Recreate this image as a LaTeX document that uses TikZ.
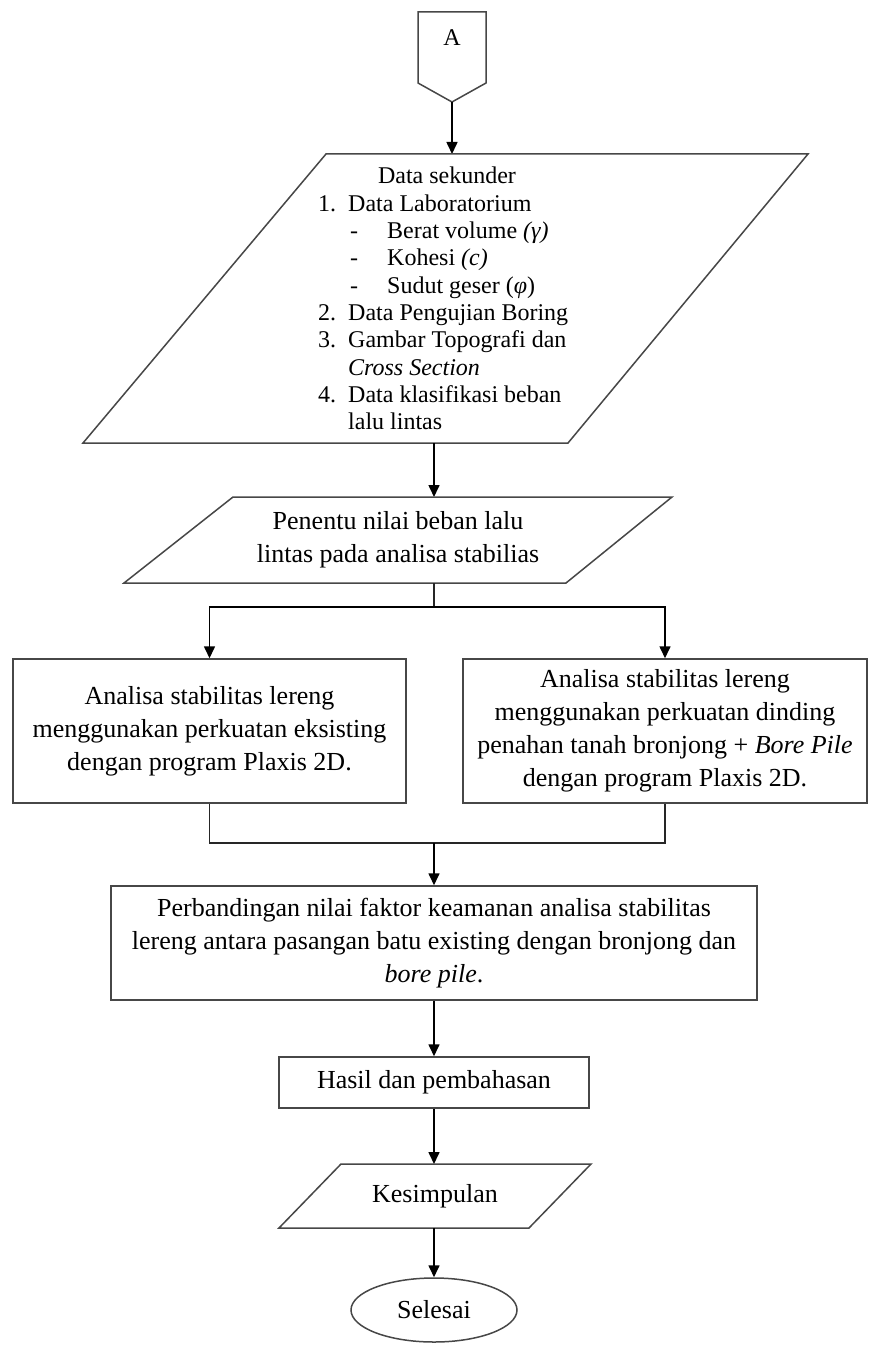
\documentclass[tikz,border=0pt]{standalone}
\usepackage{fontspec}
\setmainfont{Liberation Serif}
\usetikzlibrary{arrows.meta,shapes.geometric}
\newcommand\bxf{\fontsize{26}{33}\selectfont}
\newcommand\pxf{\fontsize{24}{27.3}\selectfont}
\begin{document}
\begin{tikzpicture}[x=1pt,y=-1pt,
  shp/.style={draw=black!72,line width=1.5pt,line join=miter},
  arr/.style={draw=black,line width=1.6pt,-{Triangle[width=11pt,length=12pt]}},
  ln/.style={draw=black!85,line width=1.5pt},
  box/.style={shp,rectangle,inner sep=0pt,align=center,font=\bxf},
  lbl/.style={inner sep=0pt,font=\pxf,anchor=base west}]
\useasboundingbox (0,0) rectangle (869,1348);
\fill[white] (0,0) rectangle (869,1348);

% off-page connector A
\draw[shp] (418,12) -- (486,12) -- (486,83) -- (452,102) -- (418,83) -- cycle;
\node[inner sep=0pt,font=\fontsize{24}{27}\selectfont] (A) at (452,38) {A};
\coordinate (offb) at (452,102);
\coordinate (p1t) at (452,154);
\draw[arr] (offb) -- (p1t);

% input data parallelogram
\draw[shp] (326,154) -- (808,154) -- (568,443) -- (83,443) -- cycle;
\node[inner sep=0pt,font=\pxf,anchor=base] (t0) at (447,184) {Data sekunder};
\node[lbl] (n1) at (318,211.3) {1.};
\node[lbl] (l1) at (348,211.3) {Data Laboratorium};
\node[lbl] (d1) at (350,238.6) {-};
\node[lbl] (s1) at (387,238.6) {Berat volume \textit{(γ)}};
\node[lbl] (d2) at (350,265.9) {-};
\node[lbl] (s2) at (387,265.9) {Kohesi \textit{(c)}};
\node[lbl] (d3) at (350,293.2) {-};
\node[lbl] (s3) at (387,293.2) {Sudut geser (\textit{φ})};
\node[lbl] (n2) at (318,320.5) {2.};
\node[lbl] (l2) at (348,320.5) {Data Pengujian Boring};
\node[lbl] (n3) at (318,347.8) {3.};
\node[lbl] (l3) at (348,347.8) {Gambar Topografi dan};
\node[lbl] (l3b) at (348,375.1) {\textit{Cross Section}};
\node[lbl] (n4) at (318,402.4) {4.};
\node[lbl] (l4) at (348,402.4) {Data klasifikasi beban};
\node[lbl] (l4b) at (348,429.7) {lalu lintas};
\coordinate (p1b) at (434,443);
\coordinate (p2t) at (434,497);
\draw[arr] (p1b) -- (p2t);

% traffic load parallelogram
\draw[shp] (233,497) -- (672,497) -- (566,583) -- (124,583) -- cycle;
\node[inner sep=0pt,align=center,font=\bxf] (p2) at (398,540) {Penentu nilai beban lalu\\lintas pada analisa stabilias};
\coordinate (p2b) at (434,583);
\coordinate (split) at (434,607);

% analysis boxes
\node[box,minimum width=393pt,minimum height=144pt] (bl) at (209.5,731)
  {Analisa stabilitas lereng\\menggunakan perkuatan eksisting\\dengan program Plaxis 2D.};
\node[box,minimum width=404pt,minimum height=144pt] (br) at (665,731)
  {Analisa stabilitas lereng\\menggunakan perkuatan dinding\\penahan tanah bronjong + \textit{Bore Pile}\\dengan program Plaxis 2D.};
\draw[ln] (p2b) -- (split);
\draw[arr] (split) -| (bl.north);
\draw[arr] (split) -| (br.north);

% comparison
\coordinate (join) at (434,843);
\node[box,minimum width=646pt,minimum height=114pt] (pb) at (434,943)
  {Perbandingan nilai faktor keamanan analisa stabilitas\\lereng antara pasangan batu existing dengan bronjong dan\\\textit{bore pile}.};
\draw[ln] (bl.south) |- (join);
\draw[ln] (br.south) |- (join);
\draw[arr] (join) -- (pb.north);

% results
\node[box,minimum width=310pt,minimum height=51pt] (hs) at (434,1082.5) {Hasil dan pembahasan};
\draw[arr] (pb.south) -- (hs.north);

% conclusion parallelogram
\draw[shp] (341,1164) -- (591,1164) -- (529,1228) -- (279,1228) -- cycle;
\node[inner sep=0pt,font=\bxf] (ks) at (435,1196) {Kesimpulan};
\coordinate (kt) at (434,1164);
\coordinate (kb) at (434,1228);
\draw[arr] (hs.south) -- (kt);

% end
\node[shp,ellipse,minimum width=166pt,minimum height=64pt,inner sep=0pt,font=\bxf] (sel) at (434,1310) {Selesai};
\draw[arr] (kb) -- (sel.north);
\end{tikzpicture}
\end{document}
